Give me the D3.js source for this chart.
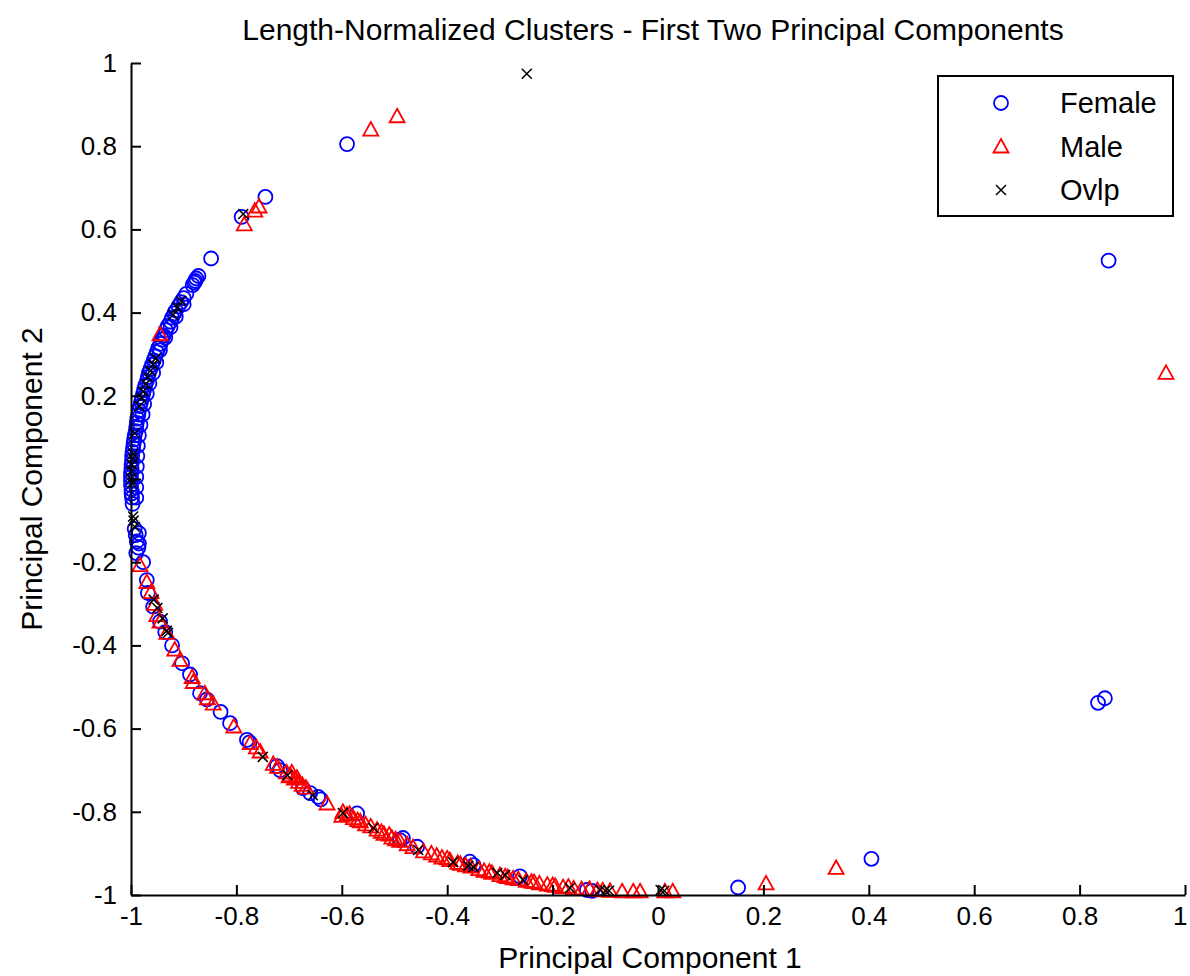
<!DOCTYPE html>
<html>
<head>
<meta charset="utf-8">
<script src="https://cdn.jsdelivr.net/npm/d3@7"></script>
<style>
  body { margin: 0; background: #fff; }
  text { font-family: "Liberation Sans", Arial, Helvetica, sans-serif; fill: #000; }
</style>
</head>
<body>
<div id="chart"></div>
<script>
// x, y
var femalePts = [
  [-0.59,0.805],[-0.745,0.678],[-0.79,0.63],[-0.848,0.53],
  [-0.872,0.488],[-0.876,0.482],[-0.878,0.476],[-0.88,0.472],[-0.883,0.466],
  [-0.895,0.445],[-0.9,0.435],[-0.905,0.425],[-0.91,0.415],[-0.915,0.405],[-0.918,0.398],
  [-0.922,0.388],[-0.925,0.378],[-0.93,0.368],[-0.934,0.358],[-0.938,0.345],[-0.941,0.335],
  [-0.944,0.325],[-0.948,0.315],[-0.951,0.305],[-0.954,0.295],[-0.957,0.285],[-0.96,0.275],
  [-0.963,0.265],[-0.966,0.255],[-0.968,0.245],[-0.97,0.235],[-0.973,0.225],[-0.975,0.215],
  [-0.977,0.205],[-0.979,0.195],[-0.981,0.185],[-0.983,0.175],[-0.985,0.165],[-0.986,0.155],
  [-0.988,0.145],[-0.989,0.135],[-0.99,0.125],[-0.991,0.115],[-0.993,0.105],[-0.994,0.095],
  [-0.995,0.085],[-0.996,0.075],[-0.997,0.065],[-0.998,0.055],[-0.998,0.045],[-0.999,0.035],
  [-0.999,0.025],[-1.0,0.015],[-1.0,0.005],[-1.0,-0.005],[-1.0,-0.015],[-0.999,-0.025],
  [-0.999,-0.035],[-0.998,-0.045],[-0.997,-0.06],
  [-0.9,0.42],[-0.915,0.39],[-0.925,0.365],[-0.935,0.34],[-0.945,0.31],[-0.952,0.28],
  [-0.958,0.255],[-0.965,0.23],[-0.97,0.205],[-0.975,0.18],[-0.978,0.155],[-0.982,0.13],
  [-0.985,0.105],[-0.987,0.08],[-0.988,0.055],[-0.989,0.03],[-0.99,0.005],[-0.99,-0.02],
  [-0.99,-0.045],[-0.985,-0.13],[-0.985,-0.155],
  [-0.993,-0.12],[-0.991,-0.135],[-0.989,-0.15],[-0.986,-0.165],[-0.99,-0.178],[-0.977,-0.2],
  [-0.97,-0.243],[-0.968,-0.274],[-0.958,-0.307],[-0.945,-0.343],[-0.935,-0.368],[-0.922,-0.4],
  [-0.903,-0.443],[-0.888,-0.47],[-0.869,-0.515],[-0.856,-0.53],[-0.83,-0.56],[-0.812,-0.587],
  [-0.78,-0.627],[-0.775,-0.633],[-0.723,-0.69],[-0.717,-0.7],[-0.674,-0.743],[-0.66,-0.755],
  [-0.645,-0.764],[-0.64,-0.77],[-0.571,-0.804],[-0.49,-0.868],[-0.484,-0.863],[-0.457,-0.884],
  [-0.357,-0.92],[-0.35,-0.928],[-0.262,-0.955],[-0.135,-0.988],[-0.125,-0.99],
  [0.152,-0.982],[0.405,-0.913],[0.835,-0.538],[0.848,-0.527],[0.855,0.525]
];
var malePts = [
  [-0.545,0.84],[-0.495,0.872],[-0.757,0.655],[-0.765,0.645],[-0.785,0.612],[-0.945,0.348],
  [-0.983,-0.207],[-0.97,-0.248],[-0.962,-0.272],[-0.955,-0.3],[-0.951,-0.327],[-0.945,-0.343],
  [-0.932,-0.37],[-0.917,-0.41],[-0.907,-0.435],[-0.884,-0.476],[-0.882,-0.488],[-0.86,-0.515],
  [-0.855,-0.527],[-0.844,-0.54],[-0.805,-0.595],[-0.774,-0.635],[-0.762,-0.645],[-0.755,-0.655],
  [-0.73,-0.685],[-0.722,-0.692],[-0.705,-0.705],[-0.698,-0.712],[-0.69,-0.72],[-0.682,-0.728],
  [-0.675,-0.735],[-0.668,-0.742],[-0.628,-0.78],[-0.598,-0.8],[-0.59,-0.807],[-0.578,-0.815],
  [-0.565,-0.823],[-0.555,-0.83],[-0.533,-0.843],[-0.52,-0.853],[-0.505,-0.862],[-0.49,-0.87],
  [-0.476,-0.878],[-0.43,-0.9],[-0.42,-0.905],[-0.41,-0.91],[-0.395,-0.916],[-0.38,-0.923],
  [-0.365,-0.929],[-0.34,-0.938],[-0.33,-0.942],[-0.315,-0.947],[-0.29,-0.955],[-0.275,-0.96],
  [-0.24,-0.968],[-0.225,-0.972],[-0.21,-0.975],[-0.195,-0.978],[-0.18,-0.981],[-0.16,-0.984],
  [-0.145,-0.986],[-0.115,-0.988],[-0.091,-0.99],[-0.068,-0.991],[-0.047,-0.991],[-0.034,-0.991],
  [0.013,-0.991],[0.028,-0.991],
  [-0.7,-0.715],[-0.695,-0.705],[-0.685,-0.718],[-0.6,-0.81],[-0.585,-0.805],[-0.57,-0.82],
  [-0.545,-0.835],[-0.525,-0.848],[-0.51,-0.855],[-0.498,-0.866],[-0.465,-0.885],[-0.445,-0.895],
  [-0.4,-0.912],[-0.375,-0.925],[-0.355,-0.932],[-0.32,-0.944],[-0.3,-0.952],[-0.285,-0.957],
  [-0.265,-0.962],[-0.25,-0.966],[-0.235,-0.969],[-0.2,-0.976],[-0.17,-0.98],[-0.13,-0.985],
  [-0.105,-0.989],
  [0.205,-0.972],[0.338,-0.935],[0.964,0.255]
];
var ovlpPts = [
  [-0.249,0.974],[-0.787,0.637],[-0.905,0.428],[-0.912,0.412],[-0.92,0.395],
  [-0.953,0.29],[-0.958,0.275],[-0.963,0.26],[-0.968,0.245],[-0.972,0.228],[-0.977,0.21],
  [-0.98,0.195],[-0.984,0.175],[-0.993,0.11],[-0.996,0.06],[-0.997,0.05],[-0.998,0.035],
  [-0.999,0.02],[-1.0,0.0],[-0.998,-0.01],[-0.996,-0.09],[-0.995,-0.1],[-0.993,-0.115],
  [-0.957,-0.29],[-0.95,-0.31],[-0.94,-0.335],[-0.932,-0.365],[-0.93,-0.37],[-0.75,-0.668],
  [-0.703,-0.712],[-0.655,-0.76],[-0.598,-0.803],[-0.54,-0.839],[-0.455,-0.892],[-0.389,-0.921],
  [-0.36,-0.93],[-0.35,-0.933],[-0.305,-0.947],[-0.29,-0.952],[-0.256,-0.964],[-0.167,-0.983],
  [-0.11,-0.988],[-0.1,-0.99],[-0.093,-0.99],[0.005,-0.988],[0.012,-0.99]
];
var xTicks = [-1, -0.8, -0.6, -0.4, -0.2, 0, 0.2, 0.4, 0.6, 0.8, 1];
var yTicks = [-1, -0.8, -0.6, -0.4, -0.2, 0, 0.2, 0.4, 0.6, 0.8, 1];
var seriesNames = ["Female", "Male", "Ovlp"];

var W = 1190, H = 976;
var x = d3.scaleLinear().domain([-1, 1]).range([131, 1185]);
var y = d3.scaleLinear().domain([-1, 1]).range([895, 63]);
var fmt = function(d){ return String(+d.toFixed(1)); };

var svg = d3.select("#chart").append("svg")
    .attr("width", W).attr("height", H);

// markers
var triPath = "M0,-7.5L7.5,6L-7.5,6Z";
var xPath = "M-5,-5L5,5M-5,5L5,-5";
var styles = {
  Female: function(g){ g.append("circle").attr("r", 7).attr("fill", "none").attr("stroke", "#0000ff").attr("stroke-width", 1.8); },
  Male: function(g){ g.append("path").attr("d", triPath).attr("fill", "none").attr("stroke", "#ff0000").attr("stroke-width", 1.8); },
  Ovlp: function(g){ g.append("path").attr("d", xPath).attr("fill", "none").attr("stroke", "#000").attr("stroke-width", 1.5); }
};

var data = { Female: femalePts, Male: malePts, Ovlp: ovlpPts };
seriesNames.forEach(function(name){
  svg.append("g").selectAll("g")
    .data(data[name])
    .enter().append("g")
    .attr("transform", function(d){ return "translate(" + x(d[0]) + "," + y(d[1]) + ")"; })
    .each(function(){ styles[name](d3.select(this)); });
});

// axes (left and bottom only, ticks inward)
var xAxis = svg.append("g")
    .attr("transform", "translate(0," + y(-1) + ")")
    .call(d3.axisBottom(x).tickValues(xTicks).tickFormat(fmt).tickSizeInner(-10).tickSizeOuter(0).tickPadding(12));
var yAxis = svg.append("g")
    .attr("transform", "translate(" + x(-1) + ",0)")
    .call(d3.axisLeft(y).tickValues(yTicks).tickFormat(fmt).tickSizeInner(-10).tickSizeOuter(0).tickPadding(14));
[xAxis, yAxis].forEach(function(a){
  a.selectAll("path, line").attr("stroke", "#000").attr("stroke-width", 2);
  a.selectAll("text").style("font-size", "26px").attr("fill", "#000");
  a.attr("font-family", null);
});
// keep the last x label inside the page
xAxis.selectAll(".tick text").filter(function(d){ return d === 1; }).attr("dx", "-0.2em");

// title and labels
svg.append("text")
    .attr("x", 653).attr("y", 40)
    .attr("text-anchor", "middle")
    .style("font-size", "30px")
    .text("Length-Normalized Clusters - First Two Principal Components");
svg.append("text")
    .attr("x", 650).attr("y", 968)
    .attr("text-anchor", "middle")
    .style("font-size", "30px")
    .text("Principal Component 1");
svg.append("text")
    .attr("transform", "translate(42,479) rotate(-90)")
    .attr("text-anchor", "middle")
    .style("font-size", "30px")
    .text("Principal Component 2");

// legend
var lg = svg.append("g");
lg.append("rect")
    .attr("x", 938).attr("y", 76).attr("width", 235).attr("height", 140)
    .attr("fill", "#fff").attr("stroke", "#000").attr("stroke-width", 2);
seriesNames.forEach(function(name, i){
  var row = lg.append("g").attr("transform", "translate(1001," + (103 + i * 43.5) + ")");
  styles[name](row);
  lg.append("text")
    .attr("x", 1060).attr("y", 103 + i * 43.5)
    .attr("dy", "0.36em")
    .style("font-size", "29px")
    .text(name);
});
</script>
</body>
</html>
